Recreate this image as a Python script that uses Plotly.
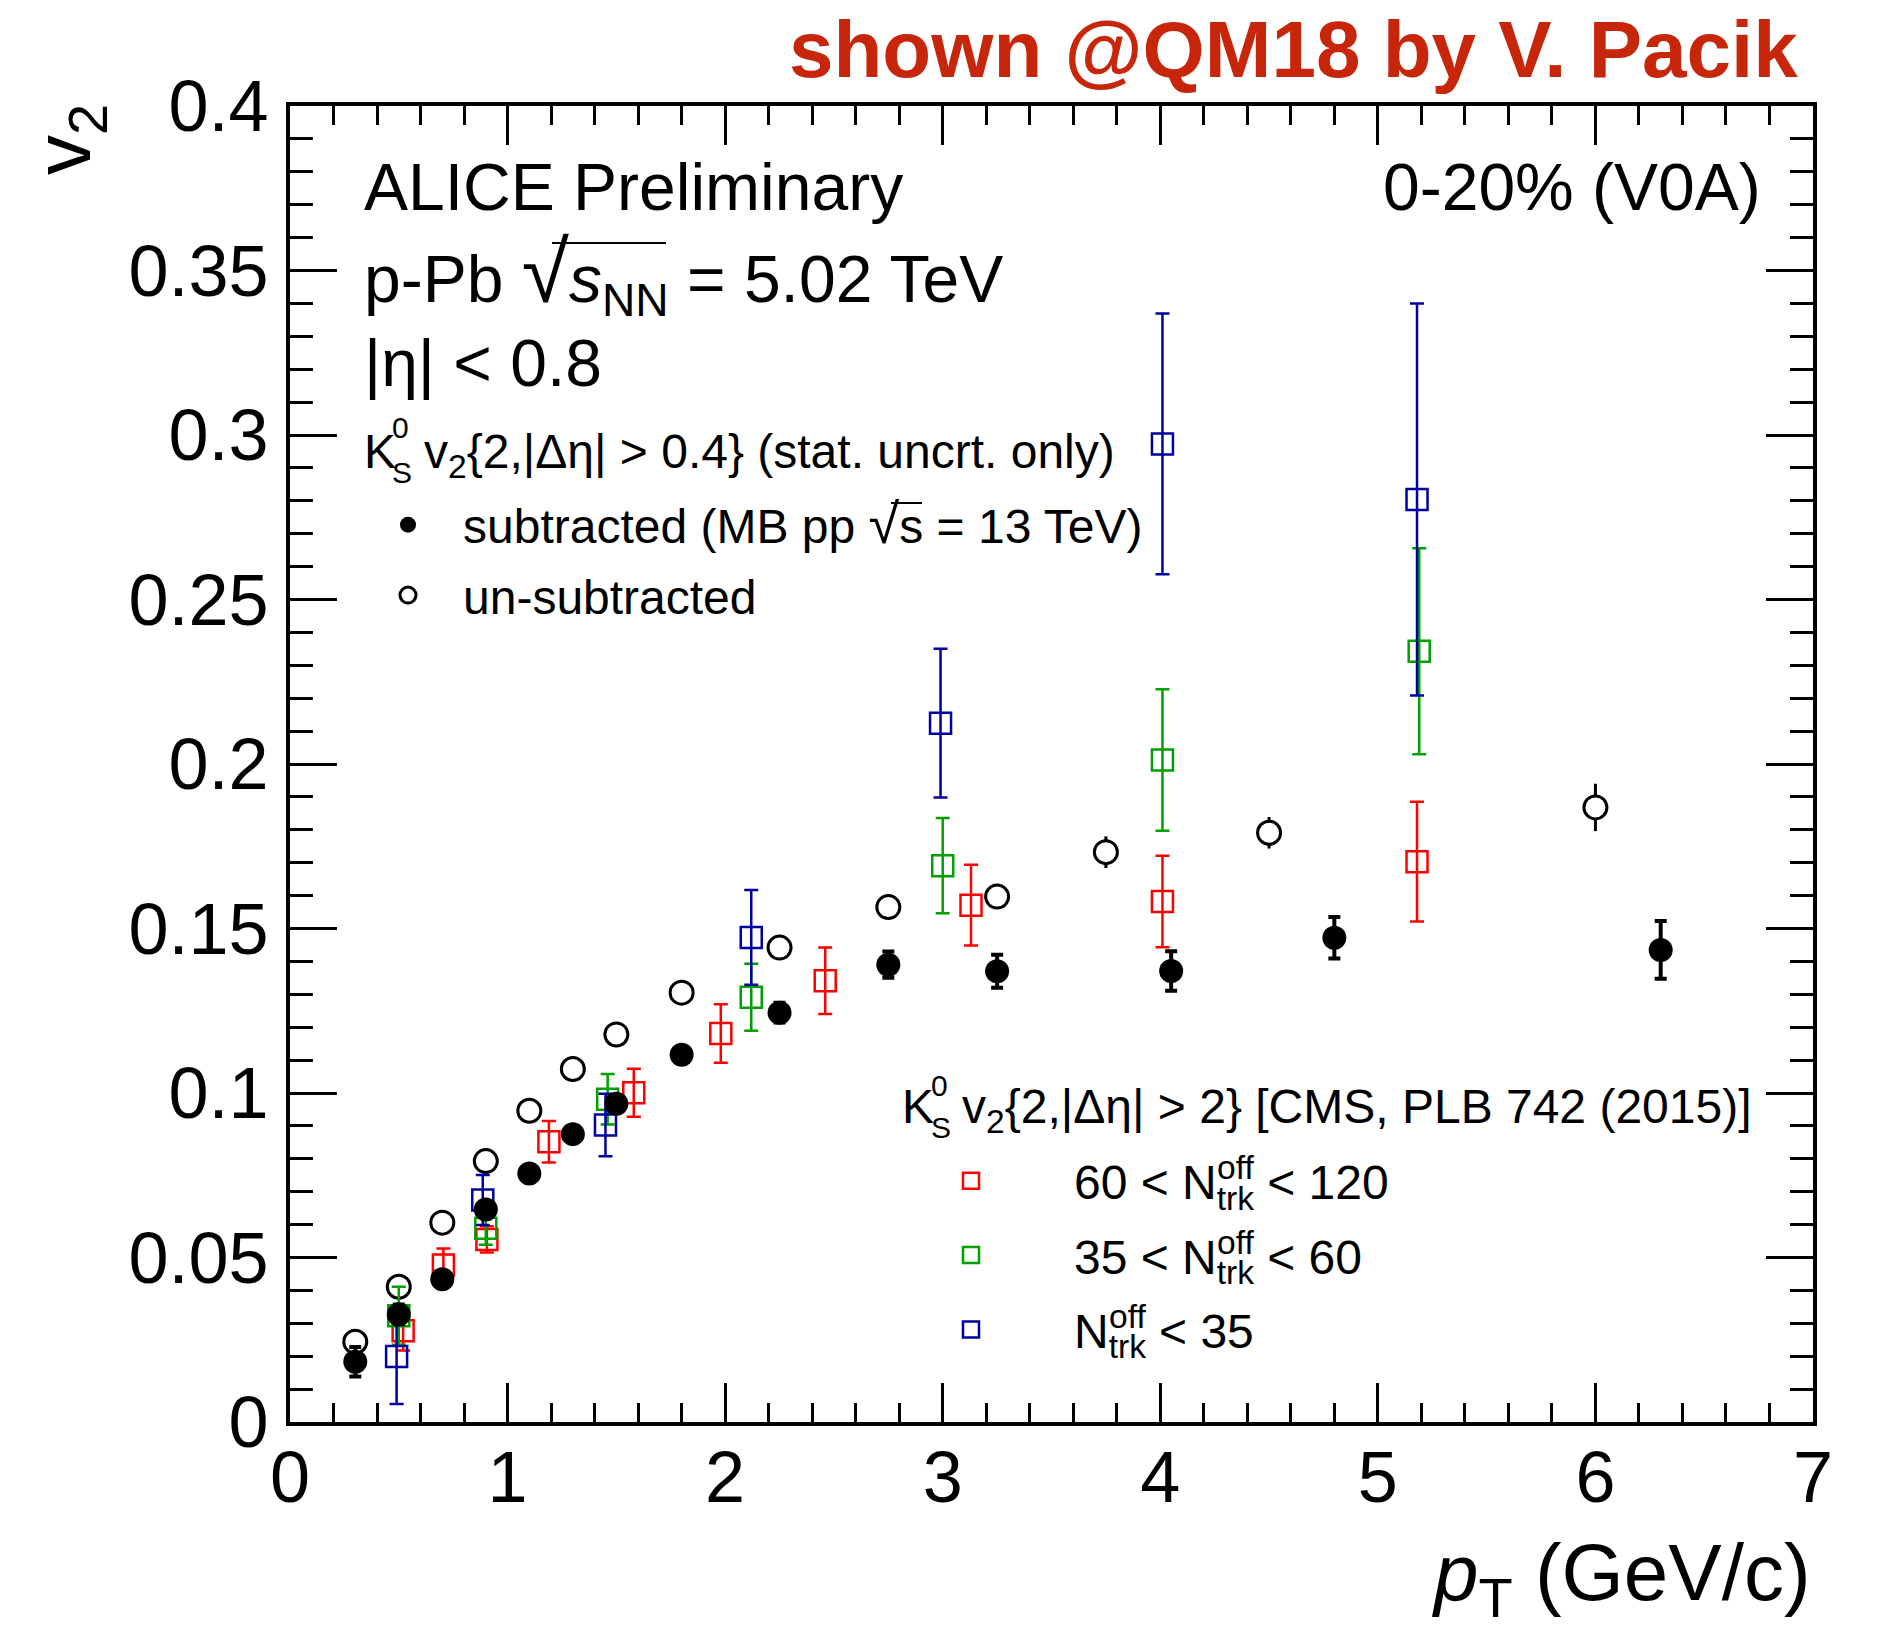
import plotly.graph_objects as go

# ---------------- data ----------------
pt_sub = [0.3, 0.5, 0.7, 0.9, 1.1, 1.3, 1.5, 1.8, 2.25, 2.75, 3.25, 4.05, 4.8, 6.3]
v2_sub = [0.0183, 0.0327, 0.0434, 0.0646, 0.0755, 0.0875, 0.0967, 0.1116, 0.1244,
          0.1390, 0.1370, 0.1371, 0.1472, 0.1435]
err_sub = [0.0045, 0.003, 0.002, 0.002, 0.002, 0.002, 0.002, 0.002, 0.003,
           0.004, 0.005, 0.006, 0.0063, 0.0088]

pt_unsub = [0.3, 0.5, 0.7, 0.9, 1.1, 1.3, 1.5, 1.8, 2.25, 2.75, 3.25, 3.75, 4.5, 6.0]
v2_unsub = [0.0244, 0.0411, 0.0606, 0.0793, 0.0946, 0.1073, 0.1178, 0.1305, 0.1442,
            0.1565, 0.1597, 0.1732, 0.1791, 0.1868]
err_unsub = [0.001, 0.001, 0.001, 0.001, 0.001, 0.0015, 0.0015, 0.002, 0.002,
             0.002, 0.003, 0.0048, 0.0048, 0.0072]

pt_cms_hi = [0.52, 0.705, 0.905, 1.19, 1.58, 1.98, 2.46, 3.13, 4.01, 5.18]
v2_cms_hi = [0.0277, 0.0477, 0.0555, 0.0852, 0.1001, 0.1181, 0.1341, 0.1571, 0.1582, 0.1703]
err_cms_hi = [0.006, 0.005, 0.004, 0.0063, 0.0073, 0.0089, 0.0101, 0.0123, 0.0139, 0.0182]

pt_cms_mid = [0.5, 0.9, 1.46, 2.12, 3.0, 4.01, 5.19]
v2_cms_mid = [0.0323, 0.0589, 0.0981, 0.1291, 0.1691, 0.2012, 0.2343]
err_cms_mid = [0.0088, 0.005, 0.0077, 0.0102, 0.0145, 0.0215, 0.0313]

pt_cms_lo = [0.49, 0.886, 1.45, 2.12, 2.99, 4.01, 5.18]
v2_cms_lo = [0.0199, 0.0675, 0.0903, 0.1473, 0.2124, 0.2973, 0.2804]
err_cms_lo = [0.0144, 0.0076, 0.0095, 0.0144, 0.0226, 0.0396, 0.0596]

x_tick_vals = [0, 1, 2, 3, 4, 5, 6, 7]
x_tick_text = ["0", "1", "2", "3", "4", "5", "6", "7"]
y_tick_vals = [0, 0.05, 0.1, 0.15, 0.2, 0.25, 0.3, 0.35, 0.4]
y_tick_text = ["0", "0.05", "0.1", "0.15", "0.2", "0.25", "0.3", "0.35", "0.4"]

# ---------------- styling ----------------
FONT = "Liberation Sans, Arial, Helvetica, sans-serif"
RED = "#ff0000"
GREEN = "#00a000"
BLUE = "#0000a0"
TITLE_RED = "#c8260a"
LEG_SIZE = 48

W, H = 1880, 1637
L, R, T, B = 290, 67, 106, 215

# N^off_trk with the super- and subscript stacked (the "k" pulls the cursor back)
NTRK = "N<sub>tr<span style='letter-spacing:-37px'>k</span></sub><sup>off</sup>"
# room left after "K" for the stacked 0 / S drawn separately
KGAP = "K&nbsp;&nbsp;<span style='letter-spacing:-12px'>&nbsp;</span>"


def px_x(p):
    return (p - L) / (W - L - R)


def px_y(p):
    return (H - B - p) / (H - T - B)


fig = go.Figure()

# un-subtracted (open circles, white filled so the bar is hidden inside)
fig.add_trace(go.Scatter(
    x=pt_unsub, y=v2_unsub, mode="markers", name="un-subtracted",
    marker=dict(symbol="circle", size=23, color="white", line=dict(width=3, color="black")),
    error_y=dict(type="data", array=err_unsub, color="black", thickness=3, width=0),
    legend="legend", legendgroup="unsub", legendrank=2))

# CMS 60 < N < 120
fig.add_trace(go.Scatter(
    x=pt_cms_hi, y=v2_cms_hi, mode="markers",
    name="60 &lt; " + NTRK + " &lt; 120",
    marker=dict(symbol="square-open", size=21, color=RED, line=dict(width=2.5, color=RED)),
    error_y=dict(type="data", array=err_cms_hi, color=RED, thickness=2.5, width=7),
    legend="legend2", legendgroup="hi", legendrank=3))

# CMS 35 < N < 60
fig.add_trace(go.Scatter(
    x=pt_cms_mid, y=v2_cms_mid, mode="markers",
    name="35 &lt; " + NTRK + " &lt; 60",
    marker=dict(symbol="square-open", size=21, color=GREEN, line=dict(width=2.5, color=GREEN)),
    error_y=dict(type="data", array=err_cms_mid, color=GREEN, thickness=2.5, width=7),
    legend="legend2", legendgroup="mid", legendrank=4))

# CMS N < 35
fig.add_trace(go.Scatter(
    x=pt_cms_lo, y=v2_cms_lo, mode="markers",
    name=NTRK + " &lt; 35",
    marker=dict(symbol="square-open", size=21, color=BLUE, line=dict(width=2.5, color=BLUE)),
    error_y=dict(type="data", array=err_cms_lo, color=BLUE, thickness=2.5, width=7),
    legend="legend2", legendgroup="lo", legendrank=5))

# subtracted (filled circles)
fig.add_trace(go.Scatter(
    x=pt_sub, y=v2_sub, mode="markers",
    name="subtracted (MB pp <span style='font-size:56px'>√</span>s = 13 TeV)",
    marker=dict(symbol="circle", size=24, color="black"),
    error_y=dict(type="data", array=err_sub, color="black", thickness=4, width=6),
    legend="legend", legendgroup="sub", legendrank=1))

axis_common = dict(
    showgrid=False, zeroline=False, showline=True, linewidth=4, linecolor="black",
    mirror="allticks", ticks="inside", tickcolor="black", tickwidth=3,
    tickfont=dict(family=FONT, size=72, color="black"),
)

fig.update_xaxes(range=[0, 7], tickmode="array", tickvals=x_tick_vals, ticktext=x_tick_text,
                 ticklen=39, minor=dict(tickmode="linear", tick0=0, dtick=0.2, ticklen=19,
                                        tickwidth=3, tickcolor="black", ticks="inside"),
                 ticklabelstandoff=-10, **axis_common)
fig.update_yaxes(range=[0, 0.4], tickmode="array", tickvals=y_tick_vals, ticktext=y_tick_text,
                 ticklen=47, minor=dict(tickmode="linear", tick0=0, dtick=0.01, ticklen=23,
                                        tickwidth=3, tickcolor="black", ticks="inside"),
                 ticklabelstandoff=3, **axis_common)

legend_common = dict(
    xanchor="left", yanchor="top", bgcolor="rgba(0,0,0,0)", borderwidth=0,
    font=dict(family=FONT, size=LEG_SIZE, color="black"), traceorder="grouped",
    itemsizing="trace",
)

fig.update_layout(
    width=W, height=H, autosize=False,
    margin=dict(l=L, r=R, t=T, b=B, pad=0),
    paper_bgcolor="white", plot_bgcolor="white",
    font=dict(family=FONT, color="black"),
    legend=dict(x=px_x(353), y=px_y(487), itemwidth=100, tracegroupgap=5, **legend_common),
    legend2=dict(x=px_x(868), y=px_y(1143), itemwidth=196, tracegroupgap=9, **legend_common),
)

annotations = [
    dict(text="<b>shown @QM18 by V. Pacik</b>", x=px_x(1800), y=px_y(50), xanchor="right",
         yanchor="middle", font=dict(family=FONT, size=80, color=TITLE_RED)),
    dict(text="ALICE Preliminary", x=px_x(362), y=px_y(187), xanchor="left", yanchor="middle",
         font=dict(family=FONT, size=66, color="black")),
    dict(text="0-20% (V0A)", x=px_x(1763), y=px_y(187), xanchor="right", yanchor="middle",
         font=dict(family=FONT, size=66, color="black")),
    dict(text="p-Pb <span style='font-size:86px'>√</span><i>s</i><sub>NN</sub> = 5.02 TeV",
         x=px_x(362), y=px_y(275), xanchor="left", yanchor="middle",
         font=dict(family=FONT, size=66, color="black")),
    dict(text="|η| &lt; 0.8", x=px_x(362), y=px_y(363), xanchor="left", yanchor="middle",
         font=dict(family=FONT, size=66, color="black")),
    # legend headers (K0S written with stacked super/subscript)
    dict(text=KGAP + "v<sub>2</sub>{2,|Δη| &gt; 0.4} (stat. uncrt. only)",
         x=px_x(362), y=px_y(455), xanchor="left", yanchor="middle",
         font=dict(family=FONT, size=LEG_SIZE, color="black")),
    dict(text="0", x=px_x(390), y=px_y(427), xanchor="left", yanchor="middle",
         font=dict(family=FONT, size=30, color="black")),
    dict(text="S", x=px_x(390), y=px_y(472), xanchor="left", yanchor="middle",
         font=dict(family=FONT, size=30, color="black")),
    dict(text=KGAP + "v<sub>2</sub>{2,|Δη| &gt; 2} [CMS, PLB 742 (2015)]",
         x=px_x(900), y=px_y(1110), xanchor="left", yanchor="middle",
         font=dict(family=FONT, size=LEG_SIZE, color="black")),
    dict(text="0", x=px_x(929), y=px_y(1085), xanchor="left", yanchor="middle",
         font=dict(family=FONT, size=30, color="black")),
    dict(text="S", x=px_x(929), y=px_y(1127), xanchor="left", yanchor="middle",
         font=dict(family=FONT, size=30, color="black")),
    # axis titles
    dict(text="<i>p</i><sub>T</sub> (GeV/c)", x=px_x(1813), y=px_y(1578), xanchor="right",
         yanchor="middle", font=dict(family=FONT, size=80, color="black")),
    dict(text="v<sub>2</sub>", x=px_x(68), y=px_y(140), xanchor="center", yanchor="middle",
         textangle=-90, font=dict(family=FONT, size=80, color="black")),
]
for a in annotations:
    a.update(xref="paper", yref="paper", showarrow=False)
fig.update_layout(annotations=annotations)

# overbars of the square-root signs
overbars = [(552, 666, 243), (891, 922, 503)]
for x0, x1, yy in overbars:
    fig.add_shape(type="line", xref="paper", yref="paper",
                  x0=px_x(x0), x1=px_x(x1), y0=px_y(yy), y1=px_y(yy),
                  line=dict(color="black", width=2))

fig.write_html("out.html", config={"displayModeBar": False},
               post_script="document.body.style.margin='0px';document.body.style.overflow='hidden';")
